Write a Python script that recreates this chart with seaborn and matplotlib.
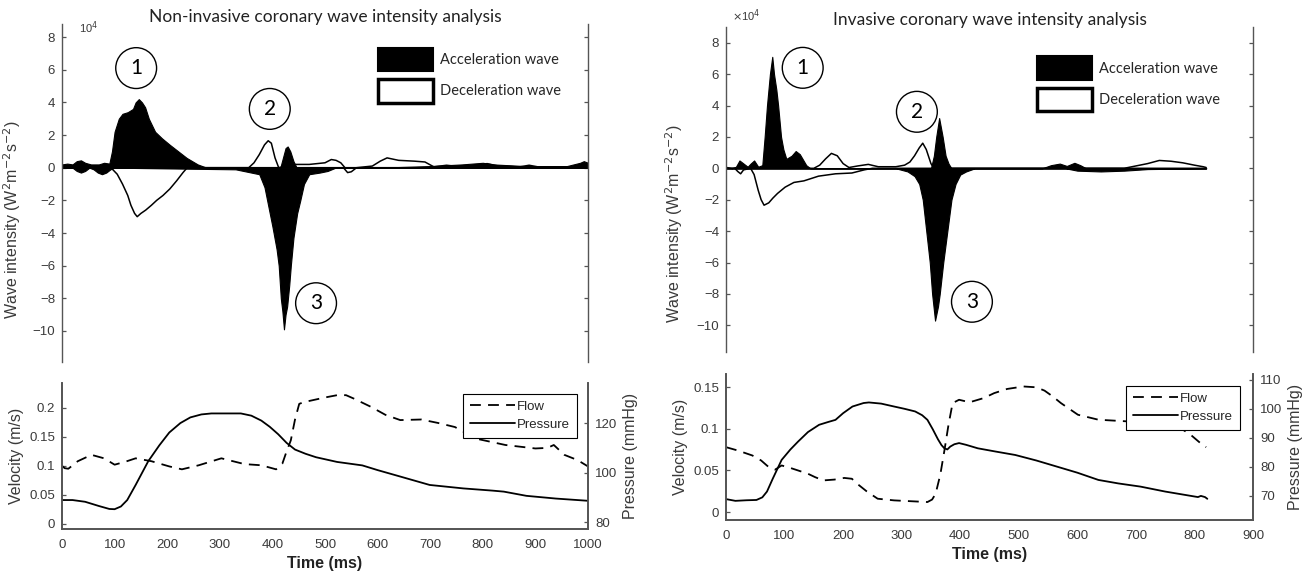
import matplotlib
matplotlib.use("Agg")
import matplotlib.pyplot as plt
import seaborn as sns
from matplotlib.patches import Patch
from matplotlib.lines import Line2D

# --- data (wave intensity in units of 1e4 W^2 m^-2 s^-2) ---

# non-invasive panel
nl_acc_pos_t = [0, 10, 20, 28, 36, 44, 55, 70, 80, 90, 95, 100, 108, 115, 125, 135, 140, 146, 152, 158,
                165, 177, 190, 205, 221, 237, 258, 275, 415, 420, 425, 429, 434, 440, 446, 600, 700, 760, 800, 820,
                880, 900, 960, 985, 992, 1000]
nl_acc_pos_v = [0.2, 0.25, 0.2, 0.4, 0.45, 0.3, 0.2, 0.2, 0.3, 0.25, 1.0, 2.2, 3.0, 3.3, 3.4, 3.6, 4.0, 4.2, 4.0, 3.7,
                3.0, 2.2, 1.8, 1.4, 1.0, 0.6, 0.2, 0.0, 0.0, 0.6, 1.2, 1.3, 1.0, 0.4, 0.0, 0.0, 0.1, 0.2, 0.3, 0.2,
                0.1, 0.1, 0.1, 0.3, 0.4, 0.3]
nl_acc_neg_t = [0, 20, 28, 36, 44, 52, 60, 68, 76, 84, 92, 100, 330, 375, 385, 390, 400, 408, 412, 416, 419, 422,
                425, 428, 432, 435, 440, 447, 453, 460, 470, 490, 505, 520, 1000]
nl_acc_neg_v = [0, 0, -0.2, -0.3, -0.2, 0, -0.1, -0.3, -0.4, -0.3, -0.1, 0, -0.1, -0.4, -1.2, -2.0, -3.6, -5.0, -6.0,
                -8.0, -8.8, -9.9, -9.0, -8.5, -7.2, -6.0, -4.3, -2.8, -2.0, -1.0, -0.4, -0.3, -0.2, 0, 0]
nl_dec_pos_t = [0, 355, 365, 375, 385, 392, 398, 405, 412, 440, 470, 500, 512, 521, 530, 538, 560, 590, 605, 618,
                640, 670, 690, 707, 731, 760, 790, 808, 830, 870, 888, 905, 1000]
nl_dec_pos_v = [0, 0, 0.3, 0.8, 1.4, 1.65, 1.5, 0.6, 0, 0.2, 0.2, 0.3, 0.5, 0.45, 0.3, 0, 0, 0.1, 0.4, 0.6,
                0.45, 0.4, 0.35, 0.05, 0.15, 0.05, 0.1, 0.25, 0.1, 0.05, 0.15, 0.05, 0]
nl_dec_neg_t = [0, 93, 105, 115, 125, 131, 138, 143, 150, 159, 170, 180, 192, 205, 218, 230, 238, 535, 543, 550,
                560, 1000]
nl_dec_neg_v = [0, 0, -0.4, -1.0, -1.7, -2.3, -2.8, -3.0, -2.8, -2.6, -2.3, -2.0, -1.7, -1.3, -0.8, -0.3, 0, 0,
                -0.3, -0.25, 0, 0]

nl_flow_t = [0, 5, 12, 30, 56, 80, 100, 120, 140, 170, 204, 228, 260, 303, 347, 379, 407, 419, 427, 435,
             443, 451, 460, 475, 500, 523, 540, 555, 587, 615, 643, 683, 715, 747, 787, 843, 900, 923, 935, 955,
             980, 1000]
nl_flow_v = [0.1, 0.096, 0.095, 0.108, 0.119, 0.113, 0.102, 0.107, 0.113, 0.108, 0.099, 0.094, 0.101, 0.113,
             0.103, 0.101, 0.094, 0.104, 0.125, 0.144, 0.180, 0.207, 0.210, 0.213, 0.218, 0.222, 0.222, 0.216,
             0.202, 0.188, 0.179, 0.180, 0.174, 0.167, 0.147, 0.136, 0.130, 0.131, 0.136, 0.119, 0.110, 0.099]
nl_pres_t = [0, 20, 44, 70, 90, 100, 112, 124, 140, 164, 185, 204, 225, 244, 265, 284, 340, 360, 379, 395,
             411, 427, 443, 463, 483, 523, 571, 600, 643, 699, 763, 819, 840, 883, 939, 1000]
nl_pres_v = [88.9, 88.9, 88.2, 86.5, 85.3, 85.2, 86.3, 88.9, 95.0, 104.6, 111.0, 116.2, 120.0, 122.3, 123.5,
             123.9, 123.9, 123.0, 121.0, 118.5, 115.5, 112.0, 109.3, 107.6, 106.2, 104.3, 102.9, 101.0, 98.4,
             95.0, 93.6, 92.7, 92.3, 90.6, 89.5, 88.6]

# invasive panel
iv_acc_pos_t = [0, 5, 10, 17, 23, 30, 37, 42, 48, 55, 62, 66, 70, 75, 79, 82, 86, 89, 94, 98,
                103, 112, 119, 126, 137, 144, 350, 355, 359, 364, 370, 375, 380, 385, 540, 555, 570, 582, 595, 605,
                615, 820]
iv_acc_pos_v = [0.1, 0.05, 0, 0.1, 0.5, 0.3, 0.1, 0.3, 0.5, 0.1, 0.2, 2.0, 4.0, 6.0, 7.1, 6.0, 5.0, 4.0, 2.0, 1.2,
                0.6, 0.8, 1.1, 0.9, 0.2, 0, 0, 0.8, 2.0, 3.2, 2.0, 0.8, 0.3, 0, 0, 0.2, 0.3, 0.15, 0.35, 0.2,
                0, 0]
iv_acc_neg_t = [0, 290, 310, 322, 330, 336, 342, 348, 352, 357, 362, 365, 371, 378, 385, 392, 400, 410, 425, 580,
                600, 640, 680, 720, 820]
iv_acc_neg_v = [0, 0, -0.2, -0.5, -1.0, -2.0, -4.0, -6.0, -8.0, -9.7, -8.8, -8.0, -6.0, -4.0, -2.0, -1.0, -0.4,
                -0.2, 0, 0, -0.15, -0.2, -0.15, -0.05, 0]
iv_dec_pos_t = [0, 150, 160, 170, 180, 190, 200, 210, 225, 243, 260, 290, 305, 314, 322, 330, 336, 342, 350, 355,
                680, 700, 720, 740, 760, 780, 800, 815, 820]
iv_dec_pos_v = [0, 0, 0.2, 0.6, 0.95, 0.8, 0.3, 0.05, 0.15, 0.25, 0.1, 0.1, 0.2, 0.4, 0.8, 1.3, 1.6, 1.2, 0.3, 0,
                0, 0.15, 0.3, 0.5, 0.45, 0.35, 0.2, 0.1, 0.05]
iv_dec_neg_t = [0, 15, 20, 25, 30, 42, 48, 55, 60, 65, 73, 80, 88, 101, 116, 133, 158, 187, 215, 236, 250, 820]
iv_dec_neg_v = [0, 0, -0.2, -0.35, -0.1, 0, -0.4, -1.4, -2.0, -2.35, -2.2, -1.9, -1.6, -1.2, -0.9, -0.8, -0.5,
                -0.35, -0.3, -0.1, 0, 0]

iv_flow_t = [0, 20, 45, 60, 73, 84, 95, 110, 123, 140, 152, 166, 185, 202, 215, 224, 240, 259, 287, 344,
             352, 358, 366, 373, 380, 387, 398, 416, 440, 458, 480, 508, 530, 544, 558, 572, 601, 636, 686, 743,
             772, 795, 815, 820]
iv_flow_v = [0.078, 0.074, 0.068, 0.062, 0.054, 0.051, 0.056, 0.053, 0.050, 0.046, 0.042, 0.038, 0.039, 0.041,
             0.040, 0.034, 0.025, 0.016, 0.014, 0.012, 0.015, 0.022, 0.045, 0.074, 0.105, 0.131, 0.135, 0.132,
             0.137, 0.143, 0.148, 0.151, 0.150, 0.146, 0.139, 0.131, 0.117, 0.111, 0.109, 0.109, 0.103, 0.092,
             0.080, 0.078]
iv_pres_t = [0, 16, 35, 52, 62, 70, 80, 95, 110, 123, 140, 159, 175, 187, 200, 216, 235, 244, 265, 287,
             305, 323, 335, 344, 353, 362, 368, 373, 378, 383, 390, 398, 410, 430, 460, 494, 530, 565, 600, 636,
             670, 708, 750, 800, 806, 811, 818, 822]
iv_pres_v = [68.9, 68.3, 68.5, 68.6, 69.5, 71.5, 76.0, 82.4, 86.0, 88.7, 92.0, 94.5, 95.5, 96.2, 98.5, 100.8,
             102.0, 102.2, 101.8, 100.8, 100.0, 99.1, 97.8, 96.2, 93.0, 89.5, 87.5, 86.4, 86.0, 87.0, 87.8, 88.2,
             87.6, 86.4, 85.3, 84.1, 82.2, 80.1, 78.0, 75.5, 74.3, 73.2, 71.5, 69.8, 69.6, 70.0, 69.6, 69.0]

wave_ticks = [-10, -8, -6, -4, -2, 0, 2, 4, 6, 8]
nl_vel_ticks = [0, 0.05, 0.1, 0.15, 0.2]
nl_vel_labels = ["0", "0.05", "0.1", "0.15", "0.2"]
nl_pres_ticks = [80, 100, 120]
iv_vel_ticks = [0, 0.05, 0.1, 0.15]
iv_vel_labels = ["0", "0.05", "0.1", "0.15"]
iv_pres_ticks = [70, 80, 90, 100, 110]
nl_time_ticks = list(range(0, 1001, 100))
iv_time_ticks = list(range(0, 901, 100))

GREY = "#3a3a3a"
SPINE = "#555555"
CAL = ["Lato", "DejaVu Sans"]
ARIAL = ["Liberation Sans", "DejaVu Sans"]
NARROW = ["Liberation Sans Narrow", "Liberation Sans", "DejaVu Sans"]

sns.set_theme(style="white")
plt.rcParams["font.family"] = ARIAL
plt.rcParams["axes.edgecolor"] = SPINE
plt.rcParams["xtick.color"] = SPINE
plt.rcParams["ytick.color"] = SPINE
plt.rcParams["xtick.labelcolor"] = GREY
plt.rcParams["ytick.labelcolor"] = GREY


def style_ticks(ax):
    ax.tick_params(direction="in", length=3, width=0.9, labelsize=9.5, pad=5)


def draw_wave_panel(ax, acc_pos, acc_neg, dec_pos, dec_neg, xmax, ylim, title, circles, scale_text, title_y):
    ax.fill_between(acc_pos[0], 0, acc_pos[1], color="black", lw=0.8)
    ax.fill_between(acc_neg[0], 0, acc_neg[1], color="black", lw=0.8)
    sns.lineplot(x=dec_pos[0], y=dec_pos[1], ax=ax, color="black", lw=1.1, sort=False, errorbar=None)
    sns.lineplot(x=dec_neg[0], y=dec_neg[1], ax=ax, color="black", lw=1.1, sort=False, errorbar=None)
    ax.set_xlim(0, xmax)
    ax.set_ylim(*ylim)
    ax.set_yticks(wave_ticks)
    ax.set_xticks([])
    for s in ["top", "bottom"]:
        ax.spines[s].set_visible(False)
    for s in ["left", "right"]:
        ax.spines[s].set_linewidth(1.0)
    style_ticks(ax)
    ax.tick_params(axis="y", right=True, left=True, labelright=False)
    ax.set_ylabel("Wave intensity (W$^2$m$^{-2}$s$^{-2}$)", fontsize=11.5, color=GREY)
    ax.text(0.5, title_y, title, transform=ax.transAxes, ha="center", va="center",
            fontsize=12.5, family=CAL, color="#222222")
    ax.text(scale_text[0], scale_text[1], scale_text[2], transform=ax.transAxes, fontsize=8, color=GREY)
    for label, cx, cy in circles:
        ax.text(cx, cy, label, ha="center", va="center", fontsize=15, family=CAL, color="black",
                bbox=dict(boxstyle="circle,pad=0.5", fc="white", ec="black", lw=1.0))
    handles = [Patch(facecolor="black", edgecolor="black", lw=1.5),
               Patch(facecolor="white", edgecolor="black", lw=2.5)]
    return handles


def draw_flow_panel(ax, flow, pres, xmax, vlim, plim, vticks, vlabels, pticks, tticks, leg_anchor):
    sns.lineplot(x=flow[0], y=flow[1], ax=ax, color="black", lw=1.3, sort=False, errorbar=None,
                 linestyle=(0, (6, 4)))
    ax.set_xlim(0, xmax)
    ax.set_ylim(*vlim)
    ax.set_yticks(vticks)
    ax.set_yticklabels(vlabels)
    ax.set_xticks(tticks)
    ax.set_ylabel("Velocity (m/s)", fontsize=11.5, color=GREY)
    ax.set_xlabel("Time (ms)", fontsize=11.5, fontweight="bold", family=NARROW, color="#222222", labelpad=4)
    ax2 = ax.twinx()
    sns.lineplot(x=pres[0], y=pres[1], ax=ax2, color="black", lw=1.3, sort=False, errorbar=None)
    ax2.set_ylim(*plim)
    ax2.set_yticks(pticks)
    ax2.set_ylabel("Pressure (mmHg)", fontsize=11.5, color=GREY)
    for a in (ax, ax2):
        a.spines["top"].set_visible(False)
        style_ticks(a)
        a.grid(False)
    ax.tick_params(axis="x", pad=7)
    handles = [Line2D([], [], color="black", lw=1.3, linestyle=(0, (6, 4))),
               Line2D([], [], color="black", lw=1.3)]
    leg = ax2.legend(handles, ["Flow", "Pressure"], loc="upper right", bbox_to_anchor=leg_anchor,
                     borderaxespad=0, handlelength=3.4, handletextpad=0.2, labelspacing=0.45,
                     borderpad=0.5, fancybox=False, framealpha=1, edgecolor="black",
                     prop={"family": NARROW, "size": 9.5})
    leg.get_frame().set_linewidth(0.8)


fig = plt.figure(figsize=(13.12, 5.81), dpi=100)

# non-invasive (left)
ax_nl = fig.add_axes([62 / 1312, 1 - 362 / 581, 526 / 1312, 338 / 581])
h = draw_wave_panel(ax_nl, (nl_acc_pos_t, nl_acc_pos_v), (nl_acc_neg_t, nl_acc_neg_v),
                    (nl_dec_pos_t, nl_dec_pos_v), (nl_dec_neg_t, nl_dec_neg_v),
                    1000, (-11.9, 8.8), "Non-invasive coronary wave intensity analysis",
                    [("1", 141, 6.1), ("2", 395, 3.6), ("3", 483, -8.3)],
                    (0.032, 0.975, "10$^4$"), 1.02)
ax_nl.legend(h, ["Acceleration wave", "Deceleration wave"], loc="upper left", bbox_to_anchor=(0.60, 0.93),
             frameon=False, handlelength=3.8, handleheight=2.1, labelspacing=0.55, handletextpad=0.45,
             borderaxespad=0, borderpad=0, prop={"family": CAL, "size": 10.5})
ax_nl.yaxis.set_label_coords(-0.074, 0.42)

ax_nlb = fig.add_axes([62 / 1312, 1 - 529 / 581, 526 / 1312, 146 / 581])
draw_flow_panel(ax_nlb, (nl_flow_t, nl_flow_v), (nl_pres_t, nl_pres_v), 1000, (-0.009, 0.243),
                (77.2, 136.2), nl_vel_ticks, nl_vel_labels, nl_pres_ticks, nl_time_ticks, (0.979, 0.925))

# invasive (right)
ax_iv = fig.add_axes([726 / 1312, 1 - 352 / 581, 527 / 1312, 325 / 581])
h = draw_wave_panel(ax_iv, (iv_acc_pos_t, iv_acc_pos_v), (iv_acc_neg_t, iv_acc_neg_v),
                    (iv_dec_pos_t, iv_dec_pos_v), (iv_dec_neg_t, iv_dec_neg_v),
                    900, (-11.7, 9.0), "Invasive coronary wave intensity analysis",
                    [("1", 131, 6.4), ("2", 326, 3.6), ("3", 420, -8.5)],
                    (0.012, 1.02, "$\\times$10$^4$"), 1.02)
ax_iv.legend(h, ["Acceleration wave", "Deceleration wave"], loc="upper left", bbox_to_anchor=(0.59, 0.91),
             frameon=False, handlelength=3.8, handleheight=2.1, labelspacing=0.55, handletextpad=0.45,
             borderaxespad=0, borderpad=0, prop={"family": CAL, "size": 10.5})
ax_iv.yaxis.set_label_coords(-0.078, 0.394)

ax_ivb = fig.add_axes([726 / 1312, 1 - 520 / 581, 527 / 1312, 146 / 581])
draw_flow_panel(ax_ivb, (iv_flow_t, iv_flow_v), (iv_pres_t, iv_pres_v), 900, (-0.0096, 0.166),
                (61.7, 112.0), iv_vel_ticks, iv_vel_labels, iv_pres_ticks, iv_time_ticks, (0.975, 0.918))

fig.savefig("out.png", dpi=100)
